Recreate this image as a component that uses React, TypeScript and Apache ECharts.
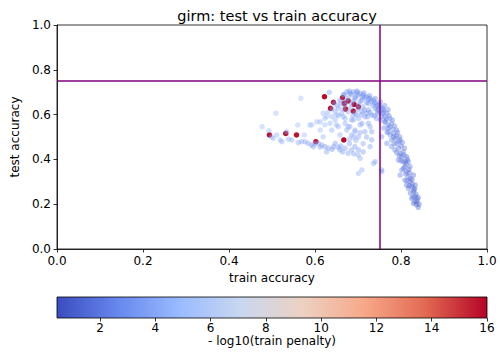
import React, { useEffect, useRef } from "react";
import * as echarts from "echarts";

// [train accuracy, test accuracy, -log10(train penalty)]
const upperArc: number[][] = [
  [0.633,0.699,3.4],[0.658,0.665,3.2],[0.666,0.688,3.0],[0.674,0.702,3.3],[0.681,0.695,2.8],[0.689,0.702,3.1],[0.697,0.699,2.7],
  [0.705,0.695,2.9],[0.712,0.688,2.6],[0.720,0.680,2.8],[0.728,0.673,2.5],[0.736,0.665,2.7],[0.743,0.650,2.4],[0.751,0.635,2.6],
  [0.759,0.621,2.3],[0.767,0.606,2.5],[0.677,0.673,3.2],[0.693,0.673,2.9],[0.709,0.665,3.0],[0.724,0.650,2.7],[0.740,0.628,2.8],
  [0.712,0.635,3.3],[0.701,0.643,3.5],[0.685,0.650,3.2],[0.670,0.643,3.6],[0.654,0.628,3.8],[0.647,0.613,4.0],[0.662,0.606,3.7],
  [0.677,0.613,3.4],[0.693,0.606,3.6],[0.709,0.613,3.2],[0.724,0.621,3.0],[0.732,0.598,3.1],[0.716,0.591,3.4],[0.701,0.583,3.7],
  [0.685,0.576,3.9],[0.670,0.583,4.1],[0.639,0.591,4.3],[0.623,0.583,4.5],[0.612,0.568,4.2],[0.592,0.554,4.6],[0.619,0.606,4.4],
  [0.650,0.554,4.1],[0.677,0.546,3.8],[0.705,0.554,3.6],[0.724,0.561,3.3],[0.743,0.583,2.9],[0.755,0.591,2.7],[0.763,0.568,2.6],
  [0.693,0.524,4.0],[0.732,0.524,3.5],[0.774,0.583,2.5],[0.770,0.554,2.4],
  [0.685,0.690,3.0],[0.700,0.688,2.8],[0.716,0.676,2.7],[0.731,0.660,2.6],[0.745,0.640,2.5],[0.757,0.628,2.4],[0.695,0.680,3.1],
  [0.710,0.678,2.9],[0.725,0.668,2.8],[0.738,0.652,2.7],[0.750,0.645,2.5],[0.748,0.625,2.6],[0.735,0.640,2.8],[0.720,0.655,2.9],
  [0.705,0.658,3.1],[0.690,0.662,3.2],[0.672,0.660,3.4],[0.660,0.650,3.5],[0.668,0.690,3.2],[0.680,0.705,3.0],[0.698,0.705,2.8],
  [0.714,0.697,2.7],[0.727,0.685,2.6],[0.740,0.672,2.5],[0.752,0.658,2.4],[0.762,0.640,2.3],[0.770,0.622,2.2],[0.760,0.612,2.4],
  [0.745,0.605,2.6],[0.728,0.610,2.8],[0.715,0.620,3.0],[0.700,0.625,3.2],[0.683,0.630,3.4],[0.665,0.625,3.6],[0.652,0.640,3.7],
  [0.645,0.650,3.8],[0.640,0.625,3.9],[0.630,0.610,4.1],[0.655,0.595,3.9],[0.688,0.595,3.6],[0.708,0.600,3.3],[0.722,0.590,3.1],
  [0.738,0.595,2.8],[0.750,0.610,2.6],
];

const interior: number[][] = [
  [0.509,0.606,5.0],[0.560,0.554,4.8],[0.575,0.509,4.7],[0.588,0.554,4.9],[0.604,0.568,4.6],[0.612,0.531,4.5],[0.619,0.501,4.4],
  [0.623,0.554,4.6],[0.627,0.591,4.7],[0.635,0.561,4.3],[0.639,0.531,4.2],[0.647,0.576,4.4],[0.650,0.598,4.2],[0.654,0.546,4.1],
  [0.658,0.509,4.0],[0.666,0.591,4.1],[0.670,0.561,3.9],[0.674,0.531,3.8],[0.681,0.546,3.8],[0.685,0.509,3.7],[0.689,0.576,3.6],
  [0.693,0.531,3.7],[0.697,0.598,3.5],[0.701,0.501,3.6],[0.709,0.561,3.4],[0.716,0.524,3.5],[0.720,0.606,3.2],[0.728,0.546,3.3],
  [0.732,0.487,3.4],[0.567,0.673,5.1],[0.740,0.390,3.7],[0.755,0.353,3.5],[0.709,0.353,4.1],[0.701,0.338,4.2],[0.728,0.457,3.6],
  [0.705,0.405,3.9],[0.736,0.382,3.8],[0.755,0.345,3.4],[0.695,0.485,3.8],[0.712,0.470,3.7],[0.720,0.500,3.5],[0.705,0.520,3.6],
  [0.690,0.500,3.8],[0.680,0.490,3.9],
];

const lowerBranch: number[][] = [
  [0.477,0.546,4.8],[0.493,0.528,4.6],[0.499,0.501,4.4],[0.503,0.494,4.3],[0.511,0.509,4.2],[0.519,0.487,4.1],[0.523,0.479,4.0],
  [0.534,0.524,4.5],[0.538,0.490,4.0],[0.546,0.487,3.9],[0.561,0.475,3.8],[0.569,0.479,3.7],[0.577,0.479,3.7],[0.584,0.472,3.6],
  [0.592,0.464,3.5],[0.596,0.457,3.5],[0.608,0.472,3.4],[0.616,0.464,3.4],[0.623,0.457,3.3],[0.631,0.450,3.3],[0.627,0.434,3.6],
  [0.643,0.457,3.2],[0.647,0.472,3.3],[0.654,0.454,3.2],[0.658,0.442,3.3],[0.664,0.434,3.4],[0.670,0.450,3.2],[0.677,0.427,3.5],
  [0.685,0.442,3.3],[0.693,0.457,3.2],[0.701,0.442,3.3],[0.712,0.434,3.4],[0.600,0.470,3.5],[0.612,0.455,3.4],[0.640,0.445,3.3],
  [0.660,0.460,3.2],[0.690,0.425,3.5],[0.700,0.420,3.6],[0.680,0.470,3.4],
];

const descendingBand: number[][] = [
  [0.763,0.568,2.3],[0.774,0.546,2.2],[0.770,0.524,2.4],[0.782,0.516,2.1],[0.786,0.494,2.1],[0.778,0.487,2.3],[0.790,0.472,2.0],
  [0.794,0.450,2.0],[0.786,0.442,2.2],[0.798,0.427,1.9],[0.802,0.412,1.9],[0.794,0.397,2.1],[0.805,0.390,1.8],[0.809,0.368,1.8],
  [0.802,0.353,2.0],[0.813,0.345,1.7],[0.817,0.323,1.7],[0.809,0.308,1.9],[0.821,0.301,1.6],[0.825,0.278,1.6],[0.817,0.271,1.8],
  [0.829,0.256,1.5],[0.833,0.234,1.5],[0.825,0.226,1.7],[0.837,0.211,1.4],[0.840,0.186,1.4],[0.821,0.368,1.8],[0.805,0.434,2.0],
  [0.778,0.457,2.4],[0.767,0.472,2.5],[0.755,0.501,2.7],[0.770,0.539,2.3],[0.790,0.531,2.1],[0.798,0.487,2.0],[0.813,0.412,1.8],
  [0.817,0.390,1.8],[0.798,0.330,2.0],[0.829,0.330,1.6],[0.813,0.286,1.8],[0.833,0.286,1.5],[0.829,0.204,1.6],
  [0.745,0.620,2.5],[0.757,0.605,2.4],[0.762,0.590,2.3],[0.766,0.580,2.3],[0.752,0.575,2.5],[0.778,0.560,2.2],[0.781,0.535,2.2],
  [0.775,0.510,2.3],[0.789,0.505,2.1],[0.795,0.480,2.1],[0.784,0.470,2.2],[0.800,0.460,2.0],[0.790,0.430,2.1],[0.807,0.420,1.9],
  [0.800,0.395,2.0],[0.812,0.380,1.8],[0.806,0.360,1.9],[0.818,0.355,1.7],[0.811,0.335,1.8],[0.822,0.315,1.7],[0.814,0.305,1.8],
  [0.826,0.290,1.6],[0.819,0.283,1.7],[0.830,0.265,1.6],[0.822,0.250,1.7],[0.835,0.245,1.5],[0.828,0.232,1.6],[0.838,0.222,1.4],
  [0.832,0.212,1.5],[0.836,0.198,1.4],[0.772,0.595,2.3],[0.780,0.575,2.2],[0.785,0.550,2.2],[0.792,0.520,2.1],[0.797,0.500,2.0],
  [0.803,0.475,2.0],[0.808,0.450,1.9],[0.796,0.415,2.0],[0.815,0.400,1.8],[0.810,0.390,1.8],[0.820,0.340,1.7],[0.826,0.310,1.6],
  [0.832,0.270,1.5],[0.840,0.230,1.4],[0.842,0.200,1.4],[0.783,0.500,2.2],[0.760,0.540,2.4],[0.768,0.520,2.4],
];

const redPoints: number[][] = [
  [0.494,0.509,15.8],[0.532,0.516,15.9],[0.557,0.509,15.7],[0.602,0.479,15.6],[0.622,0.680,15.9],
  [0.643,0.655,15.8],[0.636,0.628,15.8],[0.664,0.676,15.5],[0.668,0.650,15.9],[0.677,0.661,15.8],
  [0.671,0.625,15.4],[0.691,0.646,15.9],[0.701,0.635,15.7],[0.689,0.616,15.6],[0.667,0.487,16.0],
];

const colorMin = 0.44;
const colorMax = 16;
const colorbarTicks = [2, 4, 6, 8, 10, 12, 14, 16];
const thresholdTrain = 0.75;
const thresholdTest = 0.75;

const coolwarm = ["#3b4cc0", "#6788ee", "#9abbff", "#c9d7f0", "#edd1c2", "#f7a889", "#e26952", "#b40426"];

export default function App() {
  const ref = useRef<HTMLDivElement>(null);
  useEffect(() => {
    document.body.style.margin = "0";
    const chart = echarts.init(ref.current!, null, { renderer: "svg" });
    const font = "DejaVu Sans";
    const bluePoints = [...upperArc, ...interior, ...lowerBranch, ...descendingBand];
    const stops = coolwarm.map((c, i) => ({ offset: i / (coolwarm.length - 1), color: c }));
    chart.setOption({
      animation: false,
      backgroundColor: "#fff",
      title: {
        text: "girm: test vs train accuracy",
        left: 272,
        textAlign: "center",
        top: 3,
        textStyle: { fontFamily: font, fontSize: 14.5, fontWeight: "normal", color: "#000" },
      },
      grid: [
        { left: 57, top: 25, width: 430, height: 224, show: true, borderColor: "#000", borderWidth: 0.8, backgroundColor: "transparent" },
        { left: 57, top: 297, width: 430, height: 21, show: false },
      ],
      xAxis: [
        {
          type: "value", gridIndex: 0, min: 0, max: 1, interval: 0.2,
          name: "train accuracy", nameLocation: "middle", nameGap: 21,
          nameTextStyle: { fontFamily: font, fontSize: 12, color: "#000" },
          axisLine: { show: true, onZero: false, lineStyle: { color: "#000", width: 0.8 } },
          axisTick: { show: true, length: 3.5, lineStyle: { color: "#000", width: 0.8 } },
          axisLabel: { fontFamily: font, fontSize: 12, color: "#000", margin: 6, formatter: (v: number) => v.toFixed(1) },
          splitLine: { show: false },
        },
        {
          type: "value", gridIndex: 1, min: colorMin, max: colorMax,
          name: "- log10(train penalty)", nameLocation: "middle", nameGap: 14,
          nameTextStyle: { fontFamily: font, fontSize: 12, color: "#000" },
          axisLine: { show: false },
          axisTick: { show: true, length: 3.5, lineStyle: { color: "#000", width: 0.8 }, customValues: colorbarTicks },
          axisLabel: { fontFamily: font, fontSize: 12, color: "#000", margin: 4, customValues: colorbarTicks },
          splitLine: { show: false },
        },
      ],
      yAxis: [
        {
          type: "value", gridIndex: 0, min: 0, max: 1, interval: 0.2,
          name: "test accuracy", nameLocation: "middle", nameGap: 32,
          nameTextStyle: { fontFamily: font, fontSize: 12, color: "#000" },
          axisLine: { show: true, onZero: false, lineStyle: { color: "#000", width: 0.8 } },
          axisTick: { show: true, length: 3.5, lineStyle: { color: "#000", width: 0.8 } },
          axisLabel: { fontFamily: font, fontSize: 12, color: "#000", margin: 6, formatter: (v: number) => v.toFixed(1) },
          splitLine: { show: false },
        },
        { type: "value", gridIndex: 1, min: 0, max: 1, show: false },
      ],
      visualMap: {
        show: false,
        type: "continuous",
        min: colorMin,
        max: colorMax,
        dimension: 2,
        seriesIndex: [0, 1],
        inRange: { color: coolwarm },
      },
      series: [
        {
          type: "scatter",
          xAxisIndex: 0, yAxisIndex: 0,
          data: redPoints,
          symbolSize: 5.5,
          itemStyle: { opacity: 1 },
          silent: true,
        },
        {
          type: "scatter",
          xAxisIndex: 0, yAxisIndex: 0,
          data: bluePoints,
          symbolSize: 5.5,
          itemStyle: { opacity: 0.4 },
          silent: true,
          markLine: {
            silent: true,
            symbol: ["none", "none"],
            label: { show: false },
            emphasis: { disabled: true },
            lineStyle: { color: "#800080", width: 1.5, type: "solid", opacity: 1 },
            data: [{ xAxis: thresholdTrain }, { yAxis: thresholdTest }],
          },
        },
        {
          type: "custom",
          xAxisIndex: 1, yAxisIndex: 1,
          silent: true,
          data: [[colorMin, colorMax]],
          renderItem: (_params: any, api: any) => {
            const p0 = api.coord([api.value(0), 1]);
            const p1 = api.coord([api.value(1), 0]);
            return {
              type: "rect",
              shape: { x: p0[0], y: p0[1], width: p1[0] - p0[0], height: p1[1] - p0[1] },
              style: {
                fill: new echarts.graphic.LinearGradient(0, 0, 1, 0, stops),
                stroke: "#000",
                lineWidth: 0.8,
              },
            };
          },
        },
      ],
    });
    return () => chart.dispose();
  }, []);
  return <div ref={ref} style={{ width: 500, height: 358 }} />;
}
